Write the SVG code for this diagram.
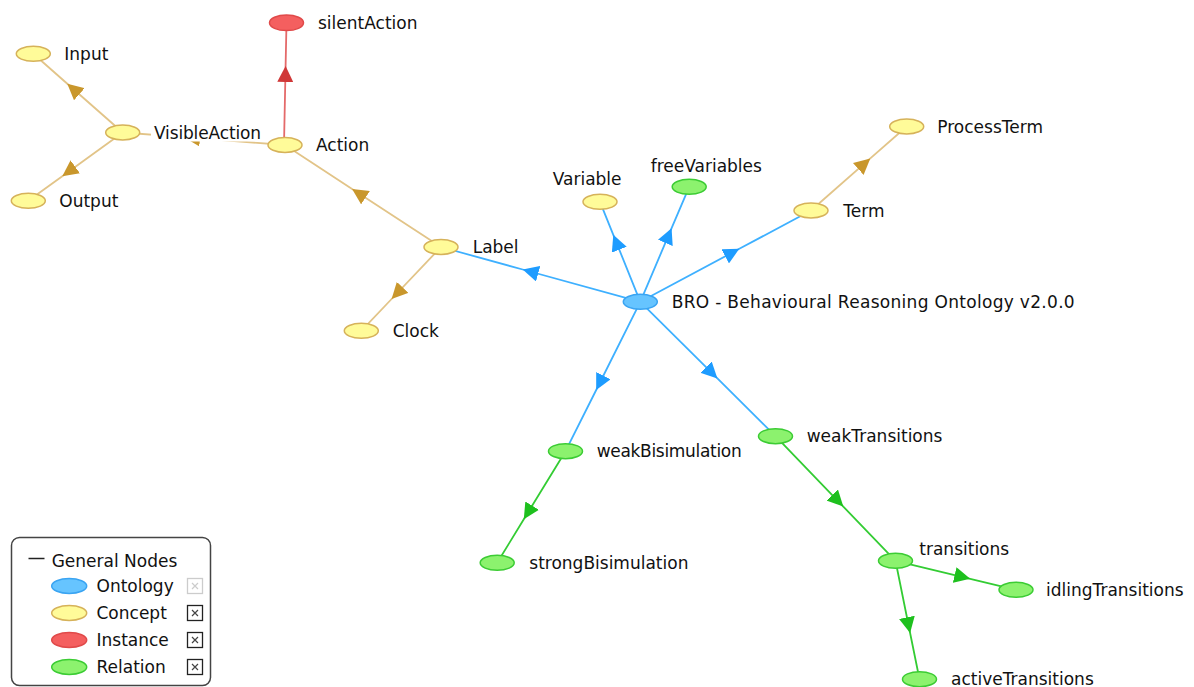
<svg xmlns="http://www.w3.org/2000/svg" width="1194" height="687" viewBox="0 0 1194 687">
<defs>
<style>
text{font-family:"DejaVu Sans","Liberation Sans",sans-serif;font-size:17px;fill:#111}
.e{fill:none;stroke-width:1.8}
.tan{stroke:#e2c488}
.blu{stroke:#3eb0ff}
.grn{stroke:#33cc33}
.red{stroke:#e46a6a}
.c{fill:#fffb99;stroke:#d6b25a;stroke-width:1.5}
.o{fill:#66c4ff;stroke:#3aa4f2;stroke-width:1.5}
.i{fill:#f45f5f;stroke:#e04a4a;stroke-width:1.5}
.r{fill:#8cf26e;stroke:#3ccc34;stroke-width:1.5}
.cb{fill:#fff;stroke:#222;stroke-width:1.3}
.cx{stroke:#444;stroke-width:1.2}
</style>
<marker id="aT" viewBox="0 0 16 16" refX="16" refY="8" markerUnits="userSpaceOnUse" markerWidth="16" markerHeight="16" orient="auto"><path d="M0,0L16,8L0,16z" fill="#c9972c"/></marker>
<marker id="aB" viewBox="0 0 16 16" refX="16" refY="8" markerUnits="userSpaceOnUse" markerWidth="16" markerHeight="16" orient="auto"><path d="M0,0L16,8L0,16z" fill="#1e9cff"/></marker>
<marker id="aG" viewBox="0 0 16 16" refX="16" refY="8" markerUnits="userSpaceOnUse" markerWidth="16" markerHeight="16" orient="auto"><path d="M0,0L16,8L0,16z" fill="#1ec01e"/></marker>
<marker id="aR" viewBox="0 0 16 16" refX="16" refY="8" markerUnits="userSpaceOnUse" markerWidth="16" markerHeight="16" orient="auto"><path d="M0,0L16,8L0,16z" fill="#d03838"/></marker>
</defs>
<rect width="1194" height="687" fill="#fff"/>
<g id="connectors">
<path class="e red" marker-mid="url(#aR)" d="M284,145L285.6,66L286.5,23"/>
<path class="e tan" marker-mid="url(#aT)" d="M285,145L184,137.2L122.7,132.5"/>
<path class="e tan" marker-mid="url(#aT)" d="M122.7,132.5L67.3,83.7L33.3,53.8"/>
<path class="e tan" marker-mid="url(#aT)" d="M122.7,132.5L62.3,176.2L28.3,200.8"/>
<path class="e tan" marker-mid="url(#aT)" d="M441,247L352.1,188.9L285,145"/>
<path class="e tan" marker-mid="url(#aT)" d="M441,247L391.6,299L361.3,330.8"/>
<path class="e blu" marker-mid="url(#aB)" d="M640.3,301.8L522.7,269.5L441,247"/>
<path class="e blu" marker-mid="url(#aB)" d="M640.3,301.8L613.3,234.8L600,201.8"/>
<path class="e blu" marker-mid="url(#aB)" d="M640.3,301.8L671.6,228.2L689.2,186.8"/>
<path class="e blu" marker-mid="url(#aB)" d="M640.3,301.8L739.3,248.8L811,210.5"/>
<path class="e tan" marker-mid="url(#aT)" d="M811,210.5L870.3,158.4L906.7,126.5"/>
<path class="e blu" marker-mid="url(#aB)" d="M640.3,301.8L596.2,390L565.5,451.2"/>
<path class="e blu" marker-mid="url(#aB)" d="M640.3,301.8L717.4,378.4L775.5,436.2"/>
<path class="e grn" marker-mid="url(#aG)" d="M565.5,451.2L523.8,519.3L497.2,562.8"/>
<path class="e grn" marker-mid="url(#aG)" d="M775.5,436.2L843.3,506.6L895.5,560.8"/>
<path class="e grn" marker-mid="url(#aG)" d="M895.5,560.8L970.2,578.8L1016,589.8"/>
<path class="e grn" marker-mid="url(#aG)" d="M895.5,560.8L910.1,633L919.5,679.2"/>
</g>
<g id="silentAction"><ellipse class="i" cx="286.5" cy="22.8" rx="17" ry="7.8"/><text x="318" y="28.8">silentAction</text></g>
<g id="Input"><ellipse class="c" cx="33.3" cy="53.8" rx="17" ry="7.5"/><text x="64.3" y="59.8">Input</text></g>
<g id="VisibleAction"><ellipse class="c" cx="122.7" cy="132.5" rx="17" ry="7.5"/><rect x="151" y="122" width="114" height="19.5" fill="#fff"/><text x="154" y="138.5" textLength="107">VisibleAction</text></g>
<g id="Action"><ellipse class="c" cx="285" cy="145" rx="17" ry="7.5"/><text x="316" y="151">Action</text></g>
<g id="Output"><ellipse class="c" cx="28.3" cy="200.8" rx="17" ry="7.5"/><text x="59.3" y="206.8">Output</text></g>
<g id="Label"><ellipse class="c" cx="441" cy="247" rx="17" ry="7.5"/><text x="472.7" y="253">Label</text></g>
<g id="Clock"><ellipse class="c" cx="361.3" cy="330.8" rx="17" ry="7.5"/><text x="392.7" y="336.8">Clock</text></g>
<g id="Variable"><ellipse class="c" cx="600" cy="201.8" rx="17" ry="7.5"/><text x="552.7" y="185">Variable</text></g>
<g id="freeVariables"><ellipse class="r" cx="689.2" cy="186.8" rx="17" ry="7.5"/><text x="650.7" y="172">freeVariables</text></g>
<g id="ProcessTerm"><ellipse class="c" cx="906.7" cy="126.5" rx="17" ry="7.5"/><text x="937.3" y="132.5">ProcessTerm</text></g>
<g id="Term"><ellipse class="c" cx="811" cy="210.5" rx="17" ry="7.5"/><text x="843.3" y="216.5">Term</text></g>
<g id="BRO"><ellipse class="o" cx="640.3" cy="301.8" rx="17" ry="7.5"/><text x="671.7" y="307.8" textLength="403">BRO - Behavioural Reasoning Ontology v2.0.0</text></g>
<g id="weakBisimulation"><ellipse class="r" cx="565.5" cy="451.2" rx="17" ry="7.5"/><text x="596.7" y="457.2" textLength="145">weakBisimulation</text></g>
<g id="strongBisimulation"><ellipse class="r" cx="497.2" cy="562.8" rx="17" ry="7.5"/><text x="529.3" y="568.8">strongBisimulation</text></g>
<g id="weakTransitions"><ellipse class="r" cx="775.5" cy="436.2" rx="17" ry="7.5"/><text x="806.7" y="442.2">weakTransitions</text></g>
<g id="transitions"><ellipse class="r" cx="895.5" cy="560.8" rx="17" ry="7.5"/><text x="919.3" y="555.3">transitions</text></g>
<g id="idlingTransitions"><ellipse class="r" cx="1016" cy="589.8" rx="17" ry="7.5"/><text x="1046" y="595.8">idlingTransitions</text></g>
<g id="activeTransitions"><ellipse class="r" cx="919.5" cy="679.2" rx="17" ry="7.5"/><text x="951" y="685">activeTransitions</text></g>
<g id="legend">
<rect x="11.5" y="537.5" width="199" height="148" rx="8" fill="#fff" stroke="#444" stroke-width="1.5"/>
<line x1="28.5" y1="558.5" x2="44.5" y2="558.5" stroke="#222" stroke-width="1.5"/>
<text x="51.7" y="566.5">General Nodes</text>
<ellipse class="o" cx="69.2" cy="586" rx="17.5" ry="7.5"/><text x="96.5" y="592">Ontology</text>
<rect x="187.5" y="578.5" width="15" height="15" fill="#fff" stroke="#ccc" stroke-width="1.3"/>
<path d="M192,583L198,589M198,583L192,589" stroke="#ccc" stroke-width="1.2"/>
<ellipse class="c" cx="69.2" cy="613" rx="17.5" ry="7.5"/><text x="96.5" y="619">Concept</text>
<rect class="cb" x="187.5" y="605.5" width="15" height="15"/>
<path class="cx" d="M192,610L198,616M198,610L192,616"/>
<ellipse class="i" cx="69.2" cy="640" rx="17.5" ry="7.5"/><text x="96.5" y="646">Instance</text>
<rect class="cb" x="187.5" y="632.5" width="15" height="15"/>
<path class="cx" d="M192,637L198,643M198,637L192,643"/>
<ellipse class="r" cx="69.2" cy="667" rx="17.5" ry="7.5"/><text x="96.5" y="673">Relation</text>
<rect class="cb" x="187.5" y="659.5" width="15" height="15"/>
<path class="cx" d="M192,664L198,670M198,664L192,670"/>
</g>
</svg>
